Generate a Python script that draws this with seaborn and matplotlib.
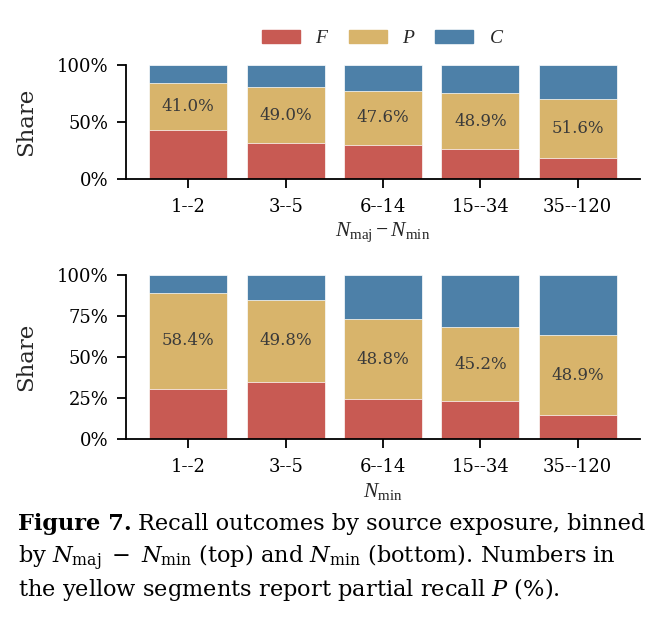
import numpy as np
import pandas as pd
import matplotlib
matplotlib.use("Agg")
import matplotlib.pyplot as plt
from matplotlib.ticker import PercentFormatter
from matplotlib.patches import Patch
import seaborn as sns

# bins
bins = ["1--2", "3--5", "6--14", "15--34", "35--120"]

# top panel: binned by N_maj - N_min (shares in %)
top_F = [43.1, 31.6, 30.0, 26.2, 18.6]
top_P = [41.0, 49.0, 47.6, 48.9, 51.6]
top_C = [15.9, 19.4, 22.4, 24.9, 29.8]

# bottom panel: binned by N_min
bot_F = [30.8, 35.0, 24.3, 23.1, 14.6]
bot_P = [58.4, 49.8, 48.8, 45.2, 48.9]
bot_C = [10.8, 15.2, 26.9, 31.7, 36.5]

col_F = "#c85a53"
col_P = "#d8b46b"
col_C = "#4d80a8"

sns.set_theme(style="ticks")
plt.rcParams["font.family"] = "serif"
plt.rcParams["font.serif"] = ["DejaVu Serif"]
plt.rcParams["mathtext.fontset"] = "custom"
plt.rcParams["mathtext.rm"] = "Liberation Serif"
plt.rcParams["mathtext.it"] = "Liberation Serif:italic"
plt.rcParams["mathtext.bf"] = "Liberation Serif:bold"
plt.rcParams["axes.linewidth"] = 1.3
plt.rcParams["xtick.major.width"] = 1.3
plt.rcParams["ytick.major.width"] = 1.3
plt.rcParams["xtick.major.size"] = 6.5
plt.rcParams["ytick.major.size"] = 6.5
plt.rcParams["xtick.major.pad"] = 7
plt.rcParams["ytick.major.pad"] = 6
plt.rcParams["axes.edgecolor"] = "black"

fig = plt.figure(figsize=(6.67, 6.2), dpi=100)
ax1 = fig.add_axes([0.1889, 0.7105, 0.7706, 0.1847])
ax2 = fig.add_axes([0.1889, 0.2914, 0.7706, 0.2650])


def stacked(ax, F, P, C, xlabel, yticks):
    F = np.array(F)
    P = np.array(P)
    C = np.array(C)
    df = pd.DataFrame({"bin": bins, "F": F, "FP": F + P, "FPC": F + P + C})
    # draw cumulative layers from back to front
    for key, c in [("FPC", col_C), ("FP", col_P), ("F", col_F)]:
        sns.barplot(data=df, x="bin", y=key, color=c, width=0.8, ax=ax,
                    edgecolor="white", linewidth=0.5, saturation=1)
    for i in range(len(bins)):
        ax.text(i, F[i] + P[i] / 2, f"{P[i]:.1f}%", ha="center", va="center",
                fontsize=12, color="#3a3a3a")
    ax.set_xlim(-0.64, 4.64)
    ax.set_ylim(0, 100)
    ax.set_yticks(yticks)
    ax.yaxis.set_major_formatter(PercentFormatter(decimals=0))
    ax.tick_params(labelsize=13, colors="black")
    ax.set_xlabel(xlabel, fontsize=15.5, labelpad=3)
    ax.set_ylabel("Share", fontsize=16.5)
    ax.yaxis.set_label_coords(-0.172, 0.5)
    sns.despine(ax=ax)


stacked(ax1, top_F, top_P, top_C, r"$N_{\mathrm{maj}} - N_{\mathrm{min}}$", [0, 50, 100])
stacked(ax2, bot_F, bot_P, bot_C, r"$N_{\mathrm{min}}$", [0, 25, 50, 75, 100])

handles = [Patch(color=col_F), Patch(color=col_P), Patch(color=col_C)]
fig.legend(handles, ["$F$", "$P$", "$C$"], loc="center", bbox_to_anchor=(0.574, 0.938),
           ncol=3, frameon=False, fontsize=14, handlelength=1.95, handleheight=0.7,
           handletextpad=0.8, columnspacing=1.0)

# caption
cap_kw = dict(fontsize=16.2, family="DejaVu Serif", ha="left", va="baseline",
              color="black", math_fontfamily="dejavuserif")
x0 = 18 / 667
t = fig.text(x0, 1 - 530 / 620, "Figure 7.", fontweight="bold", **cap_kw)
r = fig.canvas.get_renderer()
bb = t.get_window_extent(renderer=r)
fig.text(bb.x1 / 667 + 0.009, 1 - 530 / 620, "Recall outcomes by source exposure, binned", **cap_kw)
fig.text(x0, 1 - 563 / 620,
         r"by $N_{\mathrm{maj}}\;-\;N_{\mathrm{min}}$ (top) and $N_{\mathrm{min}}$ (bottom). Numbers in",
         **cap_kw)
fig.text(x0, 1 - 596 / 620, r"the yellow segments report partial recall $P$ (%).", **cap_kw)

fig.savefig("out.png", dpi=100)
